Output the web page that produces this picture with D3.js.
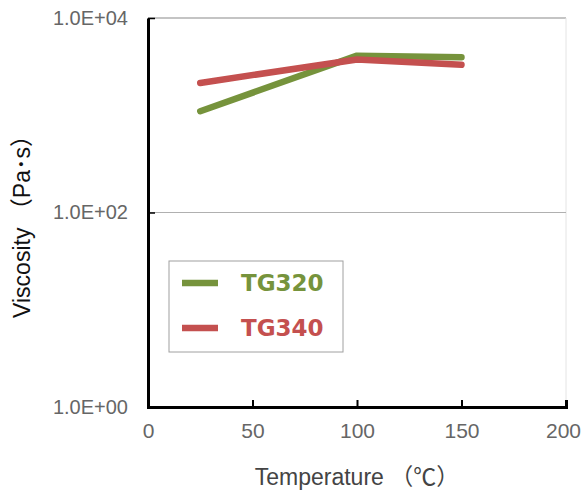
<!DOCTYPE html>
<html>
<head>
<meta charset="utf-8">
<script src="https://cdn.jsdelivr.net/npm/d3@7"></script>
<style>
  body { margin: 0; background: #fff; }
  text { font-family: "Liberation Sans", "Noto Sans CJK JP", sans-serif; }
</style>
</head>
<body>
<svg id="drawing_region"></svg>
<script>
// data
const temperatures = [25, 100, 150];
const tg320 = [1100, 4100, 3950];
const tg340 = [2150, 3750, 3300];
const seriesNames = ["TG320", "TG340"];
const xTicks = [0, 50, 100, 150, 200];
const yTicks = [1, 100, 10000];

const width = 583, height = 494;
const margin = {top: 18, right: 17, bottom: 87, left: 148};
const colors = ["#76933c", "#c4504f"];

const svg = d3.select('#drawing_region')
    .attr('width', width)
    .attr('height', height);

const innerW = width - margin.left - margin.right;
const innerH = height - margin.top - margin.bottom;

const xscale = d3.scaleLinear().domain([0, 200]).range([0, innerW]);
const yscale = d3.scaleLog().domain([1, 10000]).range([innerH, 0]);

const chart = svg.append('g')
    .attr('transform', `translate(${margin.left}, ${margin.top})`);

// frame: top and right light grey
chart.append('line')
    .attr('x1', 0).attr('x2', innerW).attr('y1', 0).attr('y2', 0)
    .attr('stroke', '#b0b0b0').attr('stroke-width', 1.5);
chart.append('line')
    .attr('x1', innerW).attr('x2', innerW).attr('y1', 0).attr('y2', innerH)
    .attr('stroke', '#e4e4e4').attr('stroke-width', 1);

// grid line at 1.0E+02
chart.append('line')
    .attr('x1', 0).attr('x2', innerW)
    .attr('y1', yscale(100)).attr('y2', yscale(100))
    .attr('stroke', '#b0b0b0').attr('stroke-width', 1.2);

// lines
const line = d3.line()
    .x(d => xscale(d[0]))
    .y(d => yscale(d[1]));

[tg320, tg340].forEach((vals, i) => {
    chart.append('path')
        .datum(temperatures.map((t, j) => [t, vals[j]]))
        .attr('d', line)
        .attr('fill', 'none')
        .attr('stroke', colors[i])
        .attr('stroke-width', 6.5)
        .attr('stroke-linecap', 'round')
        .attr('stroke-linejoin', 'round');
});

// axes
const xaxis = d3.axisBottom(xscale)
    .tickValues(xTicks)
    .tickSize(-7)
    .tickPadding(16);
const xg = chart.append('g')
    .attr('transform', `translate(0, ${innerH})`)
    .call(xaxis);
xg.select('.domain').attr('stroke', '#000').attr('stroke-width', 3);
xg.selectAll('.tick line').attr('stroke', '#000').attr('stroke-width', 2);
xg.selectAll('.tick text')
    .style('font-size', '21px')
    .attr('fill', '#666');
// last label sits on the right edge
xg.selectAll('.tick text').filter(d => d === 200).attr('dx', -3);

const yaxis = d3.axisLeft(yscale)
    .tickValues(yTicks)
    .tickFormat(d => d3.format('.1e')(d).replace('e', 'E').replace(/E([+-])(\d)$/, 'E$10$2'))
    .tickSize(0)
    .tickPadding(20);
const yg = chart.append('g').call(yaxis);
yg.select('.domain').attr('stroke', '#000').attr('stroke-width', 3);
yg.selectAll('.tick text')
    .style('font-size', '20px')
    .attr('fill', '#666');
yg.selectAll('.tick')
    .append('line')
    .attr('x1', 0).attr('x2', 7)
    .attr('stroke', '#000').attr('stroke-width', 1.5);

// legend
const legend = svg.append('g')
    .attr('transform', 'translate(169, 261)');
legend.append('rect')
    .attr('width', 174).attr('height', 91)
    .attr('fill', '#fff')
    .attr('stroke', '#a0a0a0').attr('stroke-width', 1);
seriesNames.forEach((name, i) => {
    const y = 22 + i * 45;
    legend.append('line')
        .attr('x1', 13).attr('x2', 49).attr('y1', y).attr('y2', y)
        .attr('stroke', colors[i]).attr('stroke-width', 6.5);
    legend.append('text')
        .attr('x', 72).attr('y', y)
        .attr('dy', '0.36em')
        .text(name)
        .attr('fill', colors[i])
        .style('font-family', '"DejaVu Sans", sans-serif')
        .style('font-size', '23px')
        .style('font-weight', 'bold');
});

// axis titles
svg.append('text')
    .attr('x', 357)
    .attr('y', 477)
    .attr('text-anchor', 'middle')
    .attr('dy', '0.35em')
    .attr('fill', '#444')
    .style('font-size', '23px')
    .text('Temperature （℃）');

svg.append('text')
    .attr('transform', 'translate(22, 221) rotate(-90)')
    .attr('text-anchor', 'middle')
    .attr('dy', '0.35em')
    .attr('fill', '#111')
    .style('font-size', '23px')
    .text('Viscosity （Pa･s）');
</script>
</body>
</html>
